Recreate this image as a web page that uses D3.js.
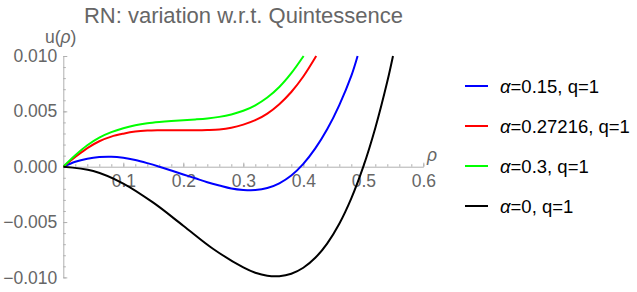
<!DOCTYPE html>
<html>
<head>
<meta charset="utf-8">
<script src="https://cdn.jsdelivr.net/npm/d3@7"></script>
<style>
  body { margin: 0; background: #fff; }
  svg { font-family: "Liberation Sans", Arial, sans-serif; }
</style>
</head>
<body>
<svg id="chart" width="637" height="292"></svg>
<script>
// values (u in units of 1e-3)
const blueRho = [0, 0.02, 0.04, 0.06, 0.08, 0.1, 0.12, 0.14, 0.16, 0.18, 0.2, 0.22, 0.24, 0.26, 0.28, 0.3, 0.32, 0.34, 0.36, 0.38, 0.4, 0.42, 0.44, 0.46, 0.48, 0.4905];
const blueU = [0, 0.45, 0.72, 0.87, 0.9, 0.8, 0.6, 0.32, 0, -0.35, -0.7, -1.05, -1.4, -1.7, -1.97, -2.1, -2.11, -1.93, -1.5, -0.8, 0.25, 1.65, 3.4, 5.57, 8.2, 10.0];

const redRho = [0, 0.02, 0.04, 0.06, 0.08, 0.1, 0.12, 0.14, 0.16, 0.18, 0.2, 0.22, 0.24, 0.26, 0.28, 0.3, 0.32, 0.34, 0.36, 0.38, 0.4, 0.4215];
const redU = [0, 0.88, 1.68, 2.3, 2.72, 2.98, 3.17, 3.26, 3.29, 3.3, 3.3, 3.3, 3.32, 3.37, 3.52, 3.8, 4.2, 4.8, 5.65, 6.75, 8.15, 10.0];

const greenRho = [0, 0.02, 0.04, 0.06, 0.08, 0.1, 0.12, 0.14, 0.16, 0.18, 0.2, 0.22, 0.24, 0.26, 0.28, 0.3, 0.32, 0.34, 0.36, 0.38, 0.4005];
const greenU = [0, 1.04, 1.94, 2.63, 3.12, 3.48, 3.74, 3.92, 4.04, 4.13, 4.2, 4.27, 4.36, 4.5, 4.72, 5.05, 5.55, 6.25, 7.2, 8.45, 10.0];

const blackRho = [0, 0.05, 0.1, 0.15, 0.2, 0.25, 0.3, 0.32, 0.34, 0.36, 0.38, 0.4, 0.42, 0.44, 0.46, 0.48, 0.5, 0.52, 0.54, 0.5495];
const blackU = [0, -0.39, -1.52, -3.25, -5.33, -7.43, -9.1, -9.58, -9.85, -9.89, -9.67, -9.13, -8.23, -6.92, -5.15, -2.86, 0, 3.5, 7.69, 10.0];

const labels = ["\u03b1=0.15, q=1", "\u03b1=0.27216, q=1", "\u03b1=0.3, q=1", "\u03b1=0, q=1"];
const colors = ["#0000ff", "#ff0000", "#00ff00", "#000000"];
const xTicks = [0.1, 0.2, 0.3, 0.4, 0.5, 0.6];
const yTicks = [-0.01, -0.005, 0, 0.005, 0.01];

const series = [
    {rho: blueRho, u: blueU},
    {rho: redRho, u: redU},
    {rho: greenRho, u: greenU},
    {rho: blackRho, u: blackU}
].map((s, i) => ({
    color: colors[i],
    label: labels[i],
    points: s.rho.map((r, j) => ({x: r, y: s.u[j] / 1000}))
}));

const svg = d3.select("svg#chart");

const x = d3.scaleLinear().domain([0, 0.6]).range([63.3, 423.3]);
const y = d3.scaleLinear().domain([-0.01, 0.01]).range([277.4, 56]);

const axisColor = "#b0b0b0";
const labelColor = "#666";

// title
svg.append("text")
    .attr("x", 243.5)
    .attr("y", 23)
    .attr("text-anchor", "middle")
    .attr("font-size", 22)
    .attr("fill", labelColor)
    .text("RN: variation w.r.t. Quintessence");

// y axis, major + minor ticks
svg.append("g")
    .attr("transform", `translate(${x(0)},0)`)
    .call(d3.axisLeft(y).tickValues(yTicks).tickSize(-4).tickSizeOuter(0)
        .tickFormat(d3.format(".3f")).tickPadding(6));
svg.append("g")
    .attr("transform", `translate(${x(0)},0)`)
    .call(d3.axisLeft(y).tickValues(d3.range(-10, 11).map(d => d / 1000))
        .tickSize(-2.5).tickSizeOuter(0).tickFormat(""))
    .select(".domain").remove();

// x axis at u = 0
const xAxis = svg.append("g")
    .attr("transform", `translate(0,${y(0)})`)
    .call(d3.axisBottom(x).tickValues(xTicks).tickSize(-4).tickSizeOuter(0)
        .tickFormat(d3.format(".1f")).tickPadding(8));
svg.append("g")
    .attr("transform", `translate(0,${y(0)})`)
    .call(d3.axisBottom(x).tickValues(d3.range(1, 31).map(d => d * 0.02))
        .tickSize(-2.5).tickSizeOuter(0).tickFormat(""))
    .select(".domain").remove();

svg.selectAll(".domain, .tick line").attr("stroke", axisColor);
svg.selectAll(".tick text")
    .attr("fill", labelColor)
    .attr("font-size", 17.5)
    .attr("font-family", "Liberation Sans, Arial, sans-serif");
xAxis.selectAll(".tick text").attr("dy", "0.71em");

// axis labels
const uLab = svg.append("text")
    .attr("x", 45)
    .attr("y", 43)
    .attr("font-size", 17.5)
    .attr("fill", labelColor);
uLab.append("tspan").text("u(");
uLab.append("tspan").attr("font-style", "italic").text("\u03c1");
uLab.append("tspan").text(")");

svg.append("text")
    .attr("x", 427)
    .attr("y", 161)
    .attr("font-size", 17.5)
    .attr("font-style", "italic")
    .attr("fill", labelColor)
    .text("\u03c1");

// curves
svg.append("clipPath")
    .attr("id", "plotClip")
    .append("rect")
    .attr("x", x(0))
    .attr("y", y(0.01) - 1)
    .attr("width", x(0.6) - x(0))
    .attr("height", y(-0.01) - y(0.01) + 2);

const line = d3.line()
    .x(d => x(d.x))
    .y(d => y(d.y))
    .curve(d3.curveCatmullRom.alpha(0.5));

svg.append("g")
    .attr("clip-path", "url(#plotClip)")
    .selectAll("path")
    .data(series)
    .enter()
    .append("path")
    .attr("d", d => line(d.points))
    .attr("fill", "none")
    .attr("stroke", d => d.color)
    .attr("stroke-width", 2);

// legend
const legend = svg.append("g")
    .selectAll("g")
    .data(series)
    .enter()
    .append("g")
    .attr("transform", (d, i) => `translate(465,${86 + i * 40})`);

legend.append("line")
    .attr("x1", 0)
    .attr("x2", 23)
    .attr("stroke", d => d.color)
    .attr("stroke-width", 2);

legend.append("text")
    .attr("x", 35)
    .attr("y", 6.5)
    .attr("font-size", 18.5)
    .attr("fill", "#000")
    .each(function(d) {
        const t = d3.select(this);
        t.append("tspan").attr("font-style", "italic").text(d.label[0]);
        t.append("tspan").text(d.label.slice(1));
    });
</script>
</body>
</html>
